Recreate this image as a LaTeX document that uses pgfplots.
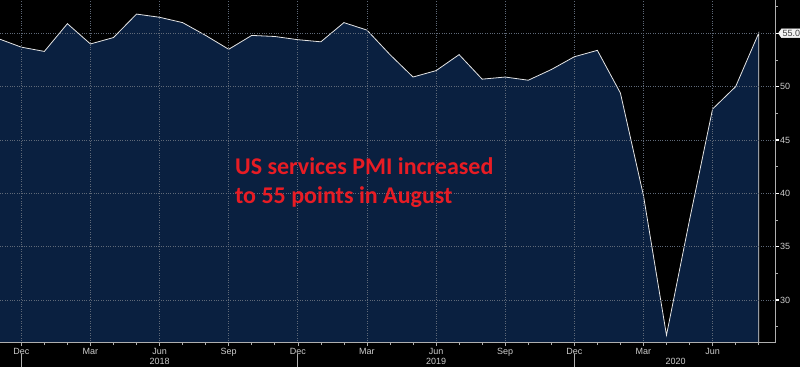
\documentclass[border=0pt]{standalone}
\usepackage{pgfplots}
\pgfplotsset{compat=1.18}
\usepackage{fontspec}
\setmainfont{Liberation Sans}
\newfontfamily\calfont{Carlito}
\usetikzlibrary{shapes.symbols}
\definecolor{navy}{RGB}{10,32,64}
\definecolor{axgray}{RGB}{175,175,175}
\definecolor{gridgray}{RGB}{95,105,120}
\definecolor{lblgray}{RGB}{205,205,205}
\definecolor{redtxt}{RGB}{232,28,36}
\begin{document}
\begin{tikzpicture}[x=1pt,y=1pt]
\fill[black] (0,0) rectangle (800,367);
\path[use as bounding box] (0,0) rectangle (800,367);
\begin{axis}[
  at={(0pt,24.3pt)}, anchor=south west,
  scale only axis, width=775.7pt, height=342.7pt,
  xmin=-0.925, xmax=32.74, ymin=26, ymax=58.12,
  axis x line*=bottom, axis y line*=right,
  axis line style={draw=axgray, line width=0.8pt, -},
  xtick={0,3,...,30},
  xticklabels={Dec,Mar,Jun,Sep,Dec,Mar,Jun,Sep,Dec,Mar,Jun},
  minor xtick={1,2,4,5,7,8,10,11,13,14,16,17,19,20,22,23,25,26,28,29,31,32},
  ytick={30,35,...,55},
  yticklabels={30,35,40,45,50,{}},
  minor ytick={27.5,32.5,37.5,42.5,47.5,52.5,57.5},
  tick align=outside,
  major tick length=3pt, minor tick length=2.5pt,
  x tick style={color=axgray, line width=0.6pt},
  y tick style={color=white, line width=1.3pt},
  minor y tick style={color=axgray, line width=0.6pt},
  grid=major,
  major grid style={dotted, color=gridgray, line width=0.7pt},
  tick label style={font=\fontsize{9}{10}\selectfont, color=lblgray},
  xticklabel style={yshift=1pt},
  yticklabel style={xshift=-2pt},
  axis on top,
]
\addplot[draw=white!80!gray, line width=0.8pt, fill=navy] coordinates {
(-1,54.5) (0,53.7) (1,53.3) (2,55.9) (3,54.0) (4,54.6) (5,56.8) (6,56.5)
(7,56.0) (8,54.8) (9,53.5) (10,54.8) (11,54.7) (12,54.4) (13,54.2) (14,56.0)
(15,55.3) (16,53.0) (17,50.9) (18,51.5) (19,53.0) (20,50.7) (21,50.9) (22,50.6)
(23,51.6) (24,52.8) (25,53.4) (26,49.4) (27,39.8) (28,26.7) (29,37.5) (30,47.9)
(31,50.0) (32,55.0)
} \closedcycle;
\coordinate (tag) at (axis cs:32.74,55);
\coordinate (t1) at (axis cs:9.27,41.72);
\coordinate (t2) at (axis cs:9.27,39.09);
\coordinate (y18) at (axis cs:6,26);
\coordinate (y19) at (axis cs:18,26);
\coordinate (y20) at (axis cs:28.4,26);
\coordinate (s0) at (axis cs:0,26);
\coordinate (s1) at (axis cs:12,26);
\coordinate (s2) at (axis cs:24,26);
\end{axis}
\node[anchor=base west, inner sep=0pt, text=redtxt, font=\calfont\bfseries\fontsize{24}{28}\selectfont] at (t1) {US services PMI increased};
\node[anchor=base west, inner sep=0pt, text=redtxt, font=\calfont\bfseries\fontsize{24}{28}\selectfont] at (t2) {to 55 points in August};
\node[signal, signal to=west, signal pointer angle=110, fill=white!90!gray, draw=white, inner sep=1.2pt, anchor=west, font=\fontsize{9}{10}\selectfont, text=black!75] at ([xshift=2.5pt]tag) {55.0};
\foreach \c/\y in {y18/2018,y19/2019,y20/2020}
  \node[anchor=base, inner sep=0pt, font=\fontsize{9}{10}\selectfont, text=lblgray] at ([yshift=-21.5pt]\c) {\y};
\foreach \c in {s0,s1,s2}
  \draw[axgray, line width=0.7pt] ([yshift=-11.5pt]\c) -- ([yshift=-24.3pt]\c);
\end{tikzpicture}
\end{document}
